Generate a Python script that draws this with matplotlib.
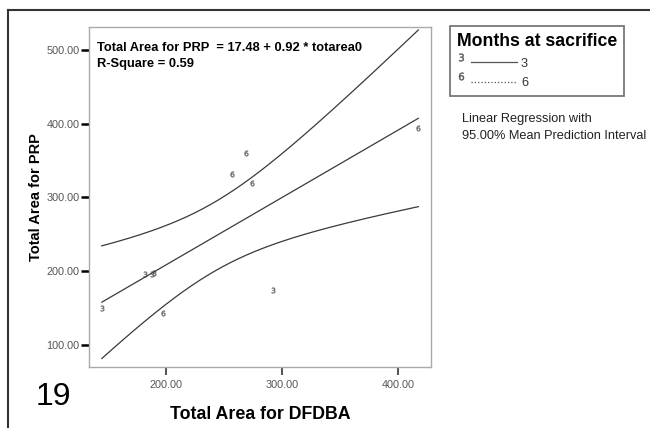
import matplotlib.pyplot as plt
import numpy as np
from matplotlib.lines import Line2D
from matplotlib.legend_handler import HandlerBase

plt.rcParams['font.family'] = ['Liberation Sans', 'DejaVu Sans']

# data
dfdba_3 = [181.9, 187.7, 144.6, 292.5, 189.7]
prp_3 = [196.0, 196.0, 149.6, 175.0, 198.0]
dfdba_6 = [268.7, 257.2, 273.9, 417.5, 197.7]
prp_6 = [359.8, 331.8, 319.0, 393.8, 142.7]

x_ticks = [200, 300, 400]
y_ticks = [100, 200, 300, 400, 500]


class MarkLineHandler(HandlerBase):
    # marker on the left, line sample to its right (SPSS style)
    def create_artists(self, legend, orig_handle, xdescent, ydescent,
                       width, height, fontsize, trans):
        y = height / 2 - ydescent
        mk = Line2D([-xdescent + 3], [y + 4], ls='none',
                    marker=orig_handle.get_marker(), markersize=5.5,
                    color='#555555', markeredgewidth=0.3)
        ln = Line2D([-xdescent + 0.24 * width, width - xdescent], [y, y],
                    ls=orig_handle.get_linestyle(), lw=0.9, color='#555555')
        mk.set_transform(trans)
        ln.set_transform(trans)
        return [mk, ln]


fig = plt.figure(figsize=(6.5, 4.28), dpi=100)
ax = fig.add_axes([0.137, 0.1425, 0.526, 0.794])

# regression + 95% mean CI, computed from all points
x = np.array(dfdba_3 + dfdba_6)
y = np.array(prp_3 + prp_6)
n = len(x)
b1, b0 = np.polyfit(x, y, 1)
resid = y - (b0 + b1 * x)
s = np.sqrt(np.sum(resid ** 2) / (n - 2))
sxx = np.sum((x - x.mean()) ** 2)
t = 2.306  # t(0.975, 8)
xs = np.linspace(x.min(), x.max(), 200)
fit = b0 + b1 * xs
hw = t * s * np.sqrt(1 / n + (xs - x.mean()) ** 2 / sxx)

lc = '#3a3a3a'
ax.plot(xs, fit, color=lc, lw=0.9)
ax.plot(xs, fit + hw, color=lc, lw=0.9)
ax.plot(xs, fit - hw, color=lc, lw=0.9)

ax.scatter(dfdba_3, prp_3, marker='$3$', s=16, color='#666666', lw=0.3)
ax.scatter(dfdba_6, prp_6, marker='$6$', s=16, color='#666666', lw=0.3)

ax.set_xlim(133.6, 428.4)
ax.set_ylim(70, 531)
ax.set_xticks(x_ticks)
ax.set_yticks(y_ticks)
ax.set_xticklabels(['%.2f' % v for v in x_ticks], fontsize=7.8, color='#555555')
ax.set_yticklabels(['%.2f' % v for v in y_ticks], fontsize=7.8, color='#555555')
ax.tick_params(axis='y', length=6, width=1.8, color='black', pad=1)
ax.tick_params(axis='x', length=6, width=1.3, color='#444444', pad=3)
for sp in ax.spines.values():
    sp.set_color('#aaaaaa')
    sp.set_linewidth(1.0)

ax.set_xlabel('Total Area for DFDBA', fontsize=12.8, fontweight='bold', labelpad=12)
ax.set_ylabel('Total Area for PRP', fontsize=10.5, fontweight='bold', labelpad=2)

ax.text(0.022, 0.955, 'Total Area for PRP  = 17.48 + 0.92 * totarea0\nR-Square = 0.59',
        transform=ax.transAxes, fontsize=9.3, fontweight='bold', va='top',
        linespacing=1.4)

# legend
handles = [Line2D([], [], ls='-', marker='$3$'),
           Line2D([], [], ls=':', marker='$6$')]
leg = fig.legend(handles, ['3', '6'], title='Months at sacrifice',
                 handler_map={Line2D: MarkLineHandler()},
                 loc='upper left', bbox_to_anchor=(0.6923, 0.9393),
                 fontsize=9.2, frameon=True, fancybox=False, edgecolor='#555555',
                 handlelength=4.7, handletextpad=0.3, borderpad=0.55,
                 labelspacing=0.6, borderaxespad=0, alignment='left')
leg.get_title().set_fontweight('bold')
leg.get_title().set_fontsize(12.7)
leg.get_frame().set_linewidth(1.3)
for txt in leg.get_texts():
    txt.set_color('#333333')

fig.text(0.711, 0.735, 'Linear Regression with\n95.00% Mean Prediction Interval',
         fontsize=9.2, va='top', color='#222222', linespacing=1.5)

fig.text(0.055, 0.054, '19', fontsize=23, va='baseline')

# outer frame (top and left only)
fig.add_artist(Line2D([0.0123, 0.0123], [0, 0.977], color='#333333', lw=1.5,
                      transform=fig.transFigure))
fig.add_artist(Line2D([0.0123, 1.0], [0.977, 0.977], color='#333333', lw=1.5,
                      transform=fig.transFigure))

fig.savefig('out.png', dpi=100)
